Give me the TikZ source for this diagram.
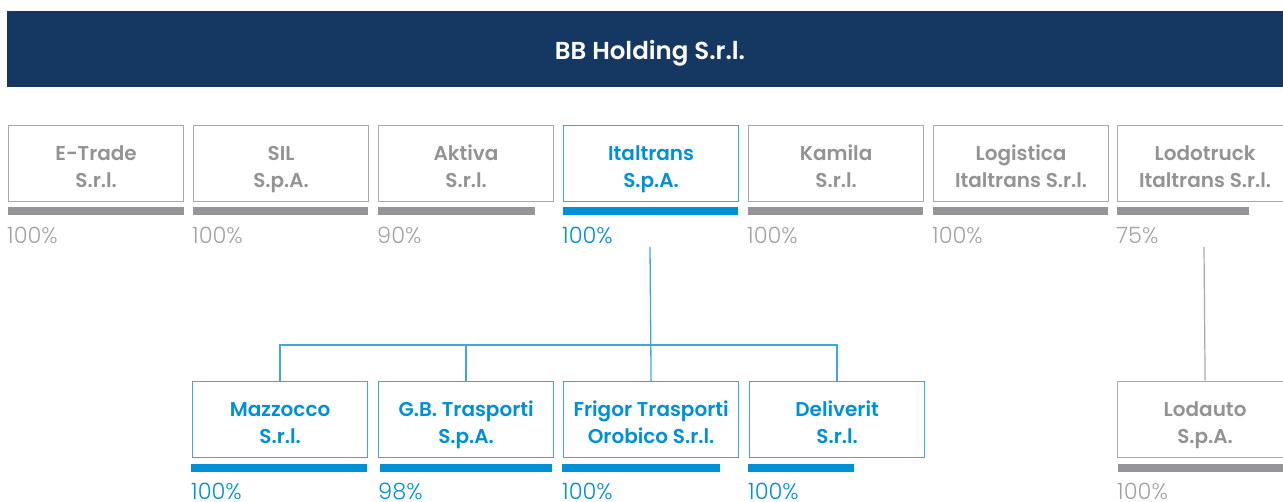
\documentclass[tikz,border=0pt]{standalone}
\usepackage{fontspec}
\setmainfont{Poppins}
\IfFontExistsTF{Poppins SemiBold}{\newfontfamily\semifont{Poppins SemiBold}}{\newcommand\semifont{\bfseries}}
\IfFontExistsTF{Poppins Light}{\newfontfamily\lightfont{Poppins Light}}{\newcommand\lightfont{\normalfont}}
\definecolor{hdr}{HTML}{153862}
\definecolor{cblue}{HTML}{0090D5}
\definecolor{cblueline}{HTML}{3DA7E0}
\definecolor{cgraytext}{HTML}{939393}
\definecolor{cgraybar}{HTML}{949598}
\definecolor{cgrayline}{HTML}{A8A8A8}
\definecolor{cpct}{HTML}{A3A3A3}
\newcommand\twol[2]{\rule{0pt}{29pt}#1\\#2\rule[-8pt]{0pt}{8pt}}
\tikzset{
  co/.style={draw=cgrayline, line width=1.2pt, minimum width=175pt, minimum height=76pt,
    inner sep=0pt, anchor=north west, align=center, text=cgraytext,
    font=\semifont\fontsize{20}{27}\selectfont},
  cob/.style={co, draw=cblueline, text=cblue},
  gbar/.style={fill=cgraybar},
  bbar/.style={fill=cblue},
  pct/.style={anchor=base west, inner sep=0pt, text=cpct, font=\lightfont\fontsize{22.5}{22.5}\selectfont},
  pctb/.style={pct, text=cblue},
  gline/.style={draw=cgrayline, line width=1.2pt},
  bline/.style={draw=cblueline, line width=1.3pt},
}
\begin{document}
\begin{tikzpicture}[x=1pt,y=-1pt]
\useasboundingbox (0,0) rectangle (1283,502);
\clip (0,0) rectangle (1283,502);
% header
\fill[hdr] (7,11) rectangle (1290,87);
\node[text=white, anchor=base, inner sep=0pt, font=\semifont\fontsize{24.5}{24.5}\selectfont] (bb) at (650,60) {BB Holding S.r.l.};
% top row
\node[co] (etrade) at (8,125) {\twol{E-Trade}{S.r.l.}};
\node[co] (sil) at (193,125) {\twol{SIL}{S.p.A.}};
\node[co] (aktiva) at (378,125) {\twol{Aktiva}{S.r.l.}};
\node[cob] (ital) at (563,125) {\twol{Italtrans}{S.p.A.}};
\node[co] (kamila) at (748,125) {\twol{Kamila}{S.r.l.}};
\node[co] (logis) at (933,125) {\twol{Logistica}{Italtrans S.r.l.}};
\node[co] (lodo) at (1117,125) {\twol{Lodotruck}{Italtrans S.r.l.}};
\fill[gbar] (8,207) rectangle (184,215);
\fill[gbar] (193,207) rectangle (368,215);
\fill[gbar] (378,207) rectangle (535,215);
\fill[bbar] (563,207) rectangle (738,215);
\fill[gbar] (748,207) rectangle (923,215);
\fill[gbar] (933,207) rectangle (1108,215);
\fill[gbar] (1117,207) rectangle (1249,215);
\node[pct] (p1) at (7,244) {100\%};
\node[pct] (p2) at (192,244) {100\%};
\node[pct] (p3) at (377,244) {90\%};
\node[pctb] (p4) at (562,244) {100\%};
\node[pct] (p5) at (747,244) {100\%};
\node[pct] (p6) at (932,244) {100\%};
\node[pct] (p7) at (1116,244) {75\%};
% bottom row
\node[cob] (mazz) at (192,381) {\twol{Mazzocco}{S.r.l.}};
\node[cob] (gb) at (378,381) {\twol{G.B. Trasporti}{S.p.A.}};
\node[cob] (frig) at (563,381) {\twol{Frigor Trasporti}{Orobico S.r.l.}};
\node[cob] (deliv) at (749,381) {\twol{Deliverit}{S.r.l.}};
\node[co] (lodauto) at (1117,381) {\twol{Lodauto}{S.p.A.}};
\fill[bbar] (191,464) rectangle (367,472);
\fill[bbar] (380,464) rectangle (552,472);
\fill[bbar] (562,464) rectangle (720,472);
\fill[bbar] (748,464) rectangle (854,472);
\fill[gbar] (1118,464) rectangle (1300,472);
\node[pctb] (q1) at (191,500) {100\%};
\node[pctb] (q2) at (378,500) {98\%};
\node[pctb] (q3) at (562,500) {100\%};
\node[pctb] (q4) at (748,500) {100\%};
\node[pct] (q5) at (1117,500) {100\%};
% connectors
\coordinate (itstart) at (650,247);
\coordinate (bus) at (650,345);
\coordinate (lodostart) at (1204,247);
\draw[bline] (itstart) -- (frig.north);
\draw[bline] (mazz.north) |- (bus) -| (deliv.north);
\draw[bline] (gb.north) -- (gb.north |- bus);
\draw[gline] (lodostart) -- (lodauto.north);
\end{tikzpicture}
\end{document}
